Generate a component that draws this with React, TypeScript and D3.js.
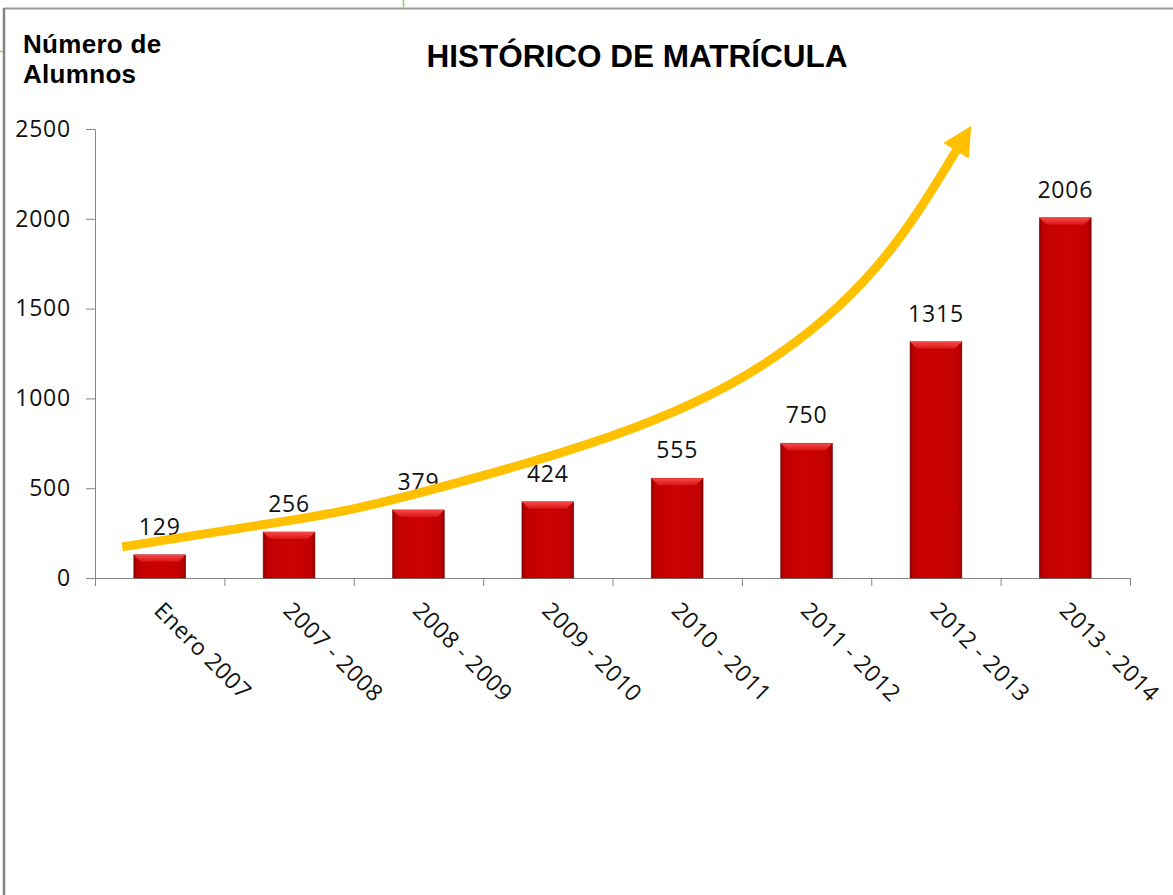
import React, { useEffect, useRef } from 'react';
import * as d3 from 'd3';

// categories and values
const categories = ['Enero 2007', '2007 - 2008', '2008 - 2009', '2009 - 2010', '2010 - 2011', '2011 - 2012', '2012 - 2013', '2013 - 2014'];
const alumnos = [129, 256, 379, 424, 555, 750, 1315, 2006];
const yTicks = [0, 500, 1000, 1500, 2000, 2500];

// the yellow trend arrow, in category index / value units
const arrowIdx = [-0.29, 1.08, 2.0, 3.47, 4.66, 5.54, 6.16];
const arrowVal = [173, 329, 473, 785, 1186, 1732, 2383];

const W = 1173;
const H = 895;

export default function App() {
    const ref = useRef<SVGSVGElement>(null);

    useEffect(() => {
        const svg = d3.select(ref.current);
        svg.selectAll('*').remove();

        const left = 95, right = 1130, top = 129, bottom = 578;
        const font = "'Open Sans', sans-serif";

        const x = d3.scaleBand().domain(categories).range([left, right]).paddingInner(0.6).paddingOuter(0.3);
        const xi = d3.scaleLinear().domain([-0.5, categories.length - 0.5]).range([left, right]);
        const y = d3.scaleLinear().domain([0, 2500]).range([bottom, top]);

        const defs = svg.append('defs');
        const body = defs.append('linearGradient').attr('id', 'barBody').attr('x1', 0).attr('x2', 1).attr('y1', 0).attr('y2', 0);
        [[0, '#8e0000'], [0.07, '#c20000'], [0.5, '#cc0202'], [0.93, '#c20000'], [1, '#870000']].forEach(([o, c]) => {
            body.append('stop').attr('offset', o as number).attr('stop-color', c as string);
        });
        const cap = defs.append('linearGradient').attr('id', 'barCap').attr('x1', 0).attr('x2', 0).attr('y1', 0).attr('y2', 1);
        cap.append('stop').attr('offset', 0).attr('stop-color', '#f84848');
        cap.append('stop').attr('offset', 1).attr('stop-color', '#d81414');
        defs.append('marker')
            .attr('id', 'arrowHead')
            .attr('markerUnits', 'userSpaceOnUse')
            .attr('viewBox', '0 -16 30 32')
            .attr('markerWidth', 30)
            .attr('markerHeight', 32)
            .attr('refX', 1)
            .attr('refY', 0)
            .attr('orient', 'auto')
            .append('path')
            .attr('d', 'M0,-15L29,0L0,15Z')
            .attr('fill', '#ffc000');

        // frame around the picture
        svg.append('rect').attr('width', W).attr('height', H).attr('fill', '#fff');
        svg.append('line').attr('x1', 4).attr('x2', W).attr('y1', 8.5).attr('y2', 8.5).attr('stroke', '#9a9a9a').attr('stroke-width', 2);
        svg.append('line').attr('x1', 4).attr('x2', 4).attr('y1', 8).attr('y2', H).attr('stroke', '#858585').attr('stroke-width', 2.5);
        svg.append('line').attr('x1', 403.5).attr('x2', 403.5).attr('y1', 0).attr('y2', 7).attr('stroke', '#92d050').attr('stroke-width', 1.5);
        svg.append('line').attr('x1', 0).attr('x2', 3).attr('y1', 51.5).attr('y2', 51.5).attr('stroke', '#92d050').attr('stroke-width', 1.5);

        // titles
        svg.append('text')
            .attr('x', 637).attr('y', 67)
            .attr('text-anchor', 'middle')
            .style('font-family', "'Liberation Sans', Arial, sans-serif")
            .style('font-weight', 'bold')
            .style('font-size', '31.5px')
            .text('HISTÓRICO DE MATRÍCULA');
        const yt = svg.append('text')
            .style('font-family', "'Liberation Sans', Arial, sans-serif")
            .style('font-weight', 'bold')
            .style('font-size', '26px')
            .style('letter-spacing', '0.3px');
        yt.append('tspan').attr('x', 23).attr('y', 53).text('Número de');
        yt.append('tspan').attr('x', 23).attr('y', 83).text('Alumnos');

        // y axis
        const gy = svg.append('g').attr('transform', `translate(${left},0)`)
            .call(d3.axisLeft(y).tickValues(yTicks).tickFormat(d3.format('d')).tickSize(9).tickSizeOuter(0).tickPadding(15));
        gy.select('.domain').attr('stroke', '#868686');
        gy.selectAll('.tick line').attr('stroke', '#868686');
        gy.selectAll('.tick text')
            .style('font-family', font).style('font-size', '23px').style('letter-spacing', '0.8px')
            .attr('fill', '#111');

        // x axis with ticks between categories
        const gx = svg.append('g').attr('transform', `translate(0,${bottom})`)
            .call(d3.axisBottom(xi).tickValues(d3.range(categories.length + 1).map(k => k - 0.5)).tickSize(8).tickSizeOuter(0).tickFormat(() => ''));
        gx.select('.domain').attr('stroke', '#868686');
        gx.selectAll('.tick line').attr('stroke', '#868686');

        // bars
        const bw = x.bandwidth();
        const bev = 7;
        const bars = svg.append('g').selectAll('g').data(alumnos).enter().append('g');
        bars.append('rect')
            .attr('x', (d, i) => x(categories[i])!)
            .attr('y', d => y(d))
            .attr('width', bw)
            .attr('height', d => y(0) - y(d))
            .attr('fill', 'url(#barBody)')
            .attr('stroke', '#7a0000')
            .attr('stroke-width', 0.8)
            .attr('stroke-opacity', 0.7);
        bars.append('path')
            .attr('d', (d, i) => {
                const x0 = x(categories[i])!, y0 = y(d);
                return `M${x0},${y0}L${x0 + bw},${y0}L${x0 + bw - bev},${y0 + bev}L${x0 + bev},${y0 + bev}Z`;
            })
            .attr('fill', 'url(#barCap)');

        // value labels
        svg.append('g').selectAll('text').data(alumnos).enter().append('text')
            .attr('x', (d, i) => x(categories[i])! + bw / 2)
            .attr('y', d => y(d) - 20)
            .attr('text-anchor', 'middle')
            .style('font-family', font).style('font-size', '23px').style('letter-spacing', '0.8px')
            .attr('fill', '#111')
            .text(d => d);

        // category labels, rotated
        svg.append('g').selectAll('text').data(categories).enter().append('text')
            .attr('transform', d => `translate(${x(d)! + bw / 2 - 7},612) rotate(45)`)
            .attr('text-anchor', 'start')
            .style('font-family', font).style('font-size', '23px').style('letter-spacing', '0.4px')
            .attr('fill', '#111')
            .text(d => d);

        // trend arrow
        const line = d3.line<number>()
            .x((d, i) => xi(arrowIdx[i]))
            .y(d => y(d))
            .curve(d3.curveNatural);
        svg.append('path')
            .attr('d', line(arrowVal))
            .attr('fill', 'none')
            .attr('stroke', '#ffc000')
            .attr('stroke-width', 9)
            .attr('marker-end', 'url(#arrowHead)');
    }, []);

    return (
        <svg ref={ref} width={W} height={H} style={{ position: 'absolute', left: 0, top: 0 }} />
    );
}
